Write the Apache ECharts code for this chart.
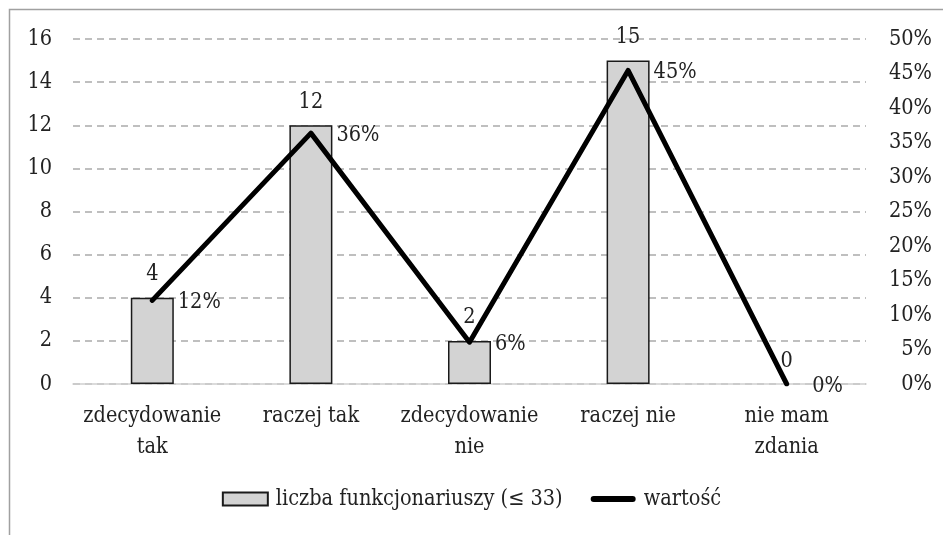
<!DOCTYPE html>
<html>
<head>
<meta charset="utf-8">
<script src="https://cdn.jsdelivr.net/npm/echarts@6/dist/echarts.min.js"></script>
<style>
	html, body { margin: 0; padding: 0; background: #fff; }
	#chart { width: 943px; height: 535px; }
</style>
</head>
<body>
<div id="chart"></div>
<script>
var kategorie = ['zdecydowanie\ntak', 'raczej tak', 'zdecydowanie\nnie', 'raczej nie', 'nie mam\nzdania'];
var liczba = [4, 12, 2, 15, 0];
var wartosc = [12.12, 36.36, 6.06, 45.45, 0];
var lewaOs = { min: 0, max: 16, interval: 2 };
var prawaOs = { min: 0, max: 50, interval: 5 };

var font = '"DejaVu Serif Condensed", "DejaVu Serif", serif';
var fs = 21.5;
var chart = echarts.init(document.getElementById('chart'));
var option = {
	textStyle: { fontFamily: font },
	graphic: [{
		type: 'rect',
		shape: { x: 9.5, y: 9.5, width: 1000, height: 1000 },
		style: { fill: 'none', stroke: '#a0a0a0', lineWidth: 1.5 },
		silent: true
	}],
	grid: { left: 73, right: 77, top: 39, bottom: 151 },
	legend: {
		bottom: 20,
		left: 'center',
		itemGap: 28,
		itemWidth: 45,
		itemHeight: 13,
		textStyle: { fontFamily: font, fontSize: fs, color: '#222', padding: [0, 0, 0, 3] },
		data: [
			{ name: 'liczba funkcjonariuszy (≤ 33)', icon: 'rect' },
			{ name: 'wartość', icon: 'path://M3,0 L42,0 A3,3 0 0 1 42,6 L3,6 A3,3 0 0 1 3,0 Z' }
		]
	},
	xAxis: {
		type: 'category',
		data: kategorie,
		axisLine: { lineStyle: { color: '#d0d0d0', width: 1.5 } },
		axisTick: { show: false },
		axisLabel: { color: '#222', fontSize: fs, lineHeight: 31, margin: 17, interval: 0 }
	},
	yAxis: [{
		type: 'value',
		min: lewaOs.min, max: lewaOs.max, interval: lewaOs.interval,
		axisLine: { show: false },
		axisTick: { show: false },
		axisLabel: { color: '#222', fontSize: fs, margin: 21 },
		splitLine: { lineStyle: { color: '#aaaaaa', type: [7, 5], width: 1.5 } }
	}, {
		type: 'value',
		min: prawaOs.min, max: prawaOs.max, interval: prawaOs.interval,
		axisLine: { show: false },
		axisTick: { show: false },
		splitLine: { show: false },
		axisLabel: {
			color: '#222', fontSize: fs, margin: 66, align: 'right',
			formatter: function (v) { return v + '%'; }
		}
	}],
	series: [{
		name: 'liczba funkcjonariuszy (≤ 33)',
		type: 'bar',
		data: liczba.map(function (v) {
			return v === 0 ? { value: v, itemStyle: { borderWidth: 0 } } : v;
		}),
		barWidth: 43,
		itemStyle: { color: '#d3d3d3', borderColor: '#1a1a1a', borderWidth: 1.5 },
		label: { show: true, position: 'top', distance: 12, color: '#222', fontSize: fs, fontFamily: font }
	}, {
		name: 'wartość',
		type: 'line',
		yAxisIndex: 1,
		data: wartosc,
		symbol: 'circle',
		symbolSize: 1,
		showSymbol: true,
		z: 5,
		lineStyle: { color: '#000', width: 5, cap: 'round', join: 'round' },
		itemStyle: { color: '#000' },
		label: {
			show: true, position: 'right', distance: 25, offset: [0, 2],
			color: '#222', fontSize: fs, fontFamily: font,
			formatter: function (p) { return Math.round(p.value) + '%'; }
		}
	}]
};
chart.setOption(option);
</script>
</body>
</html>
